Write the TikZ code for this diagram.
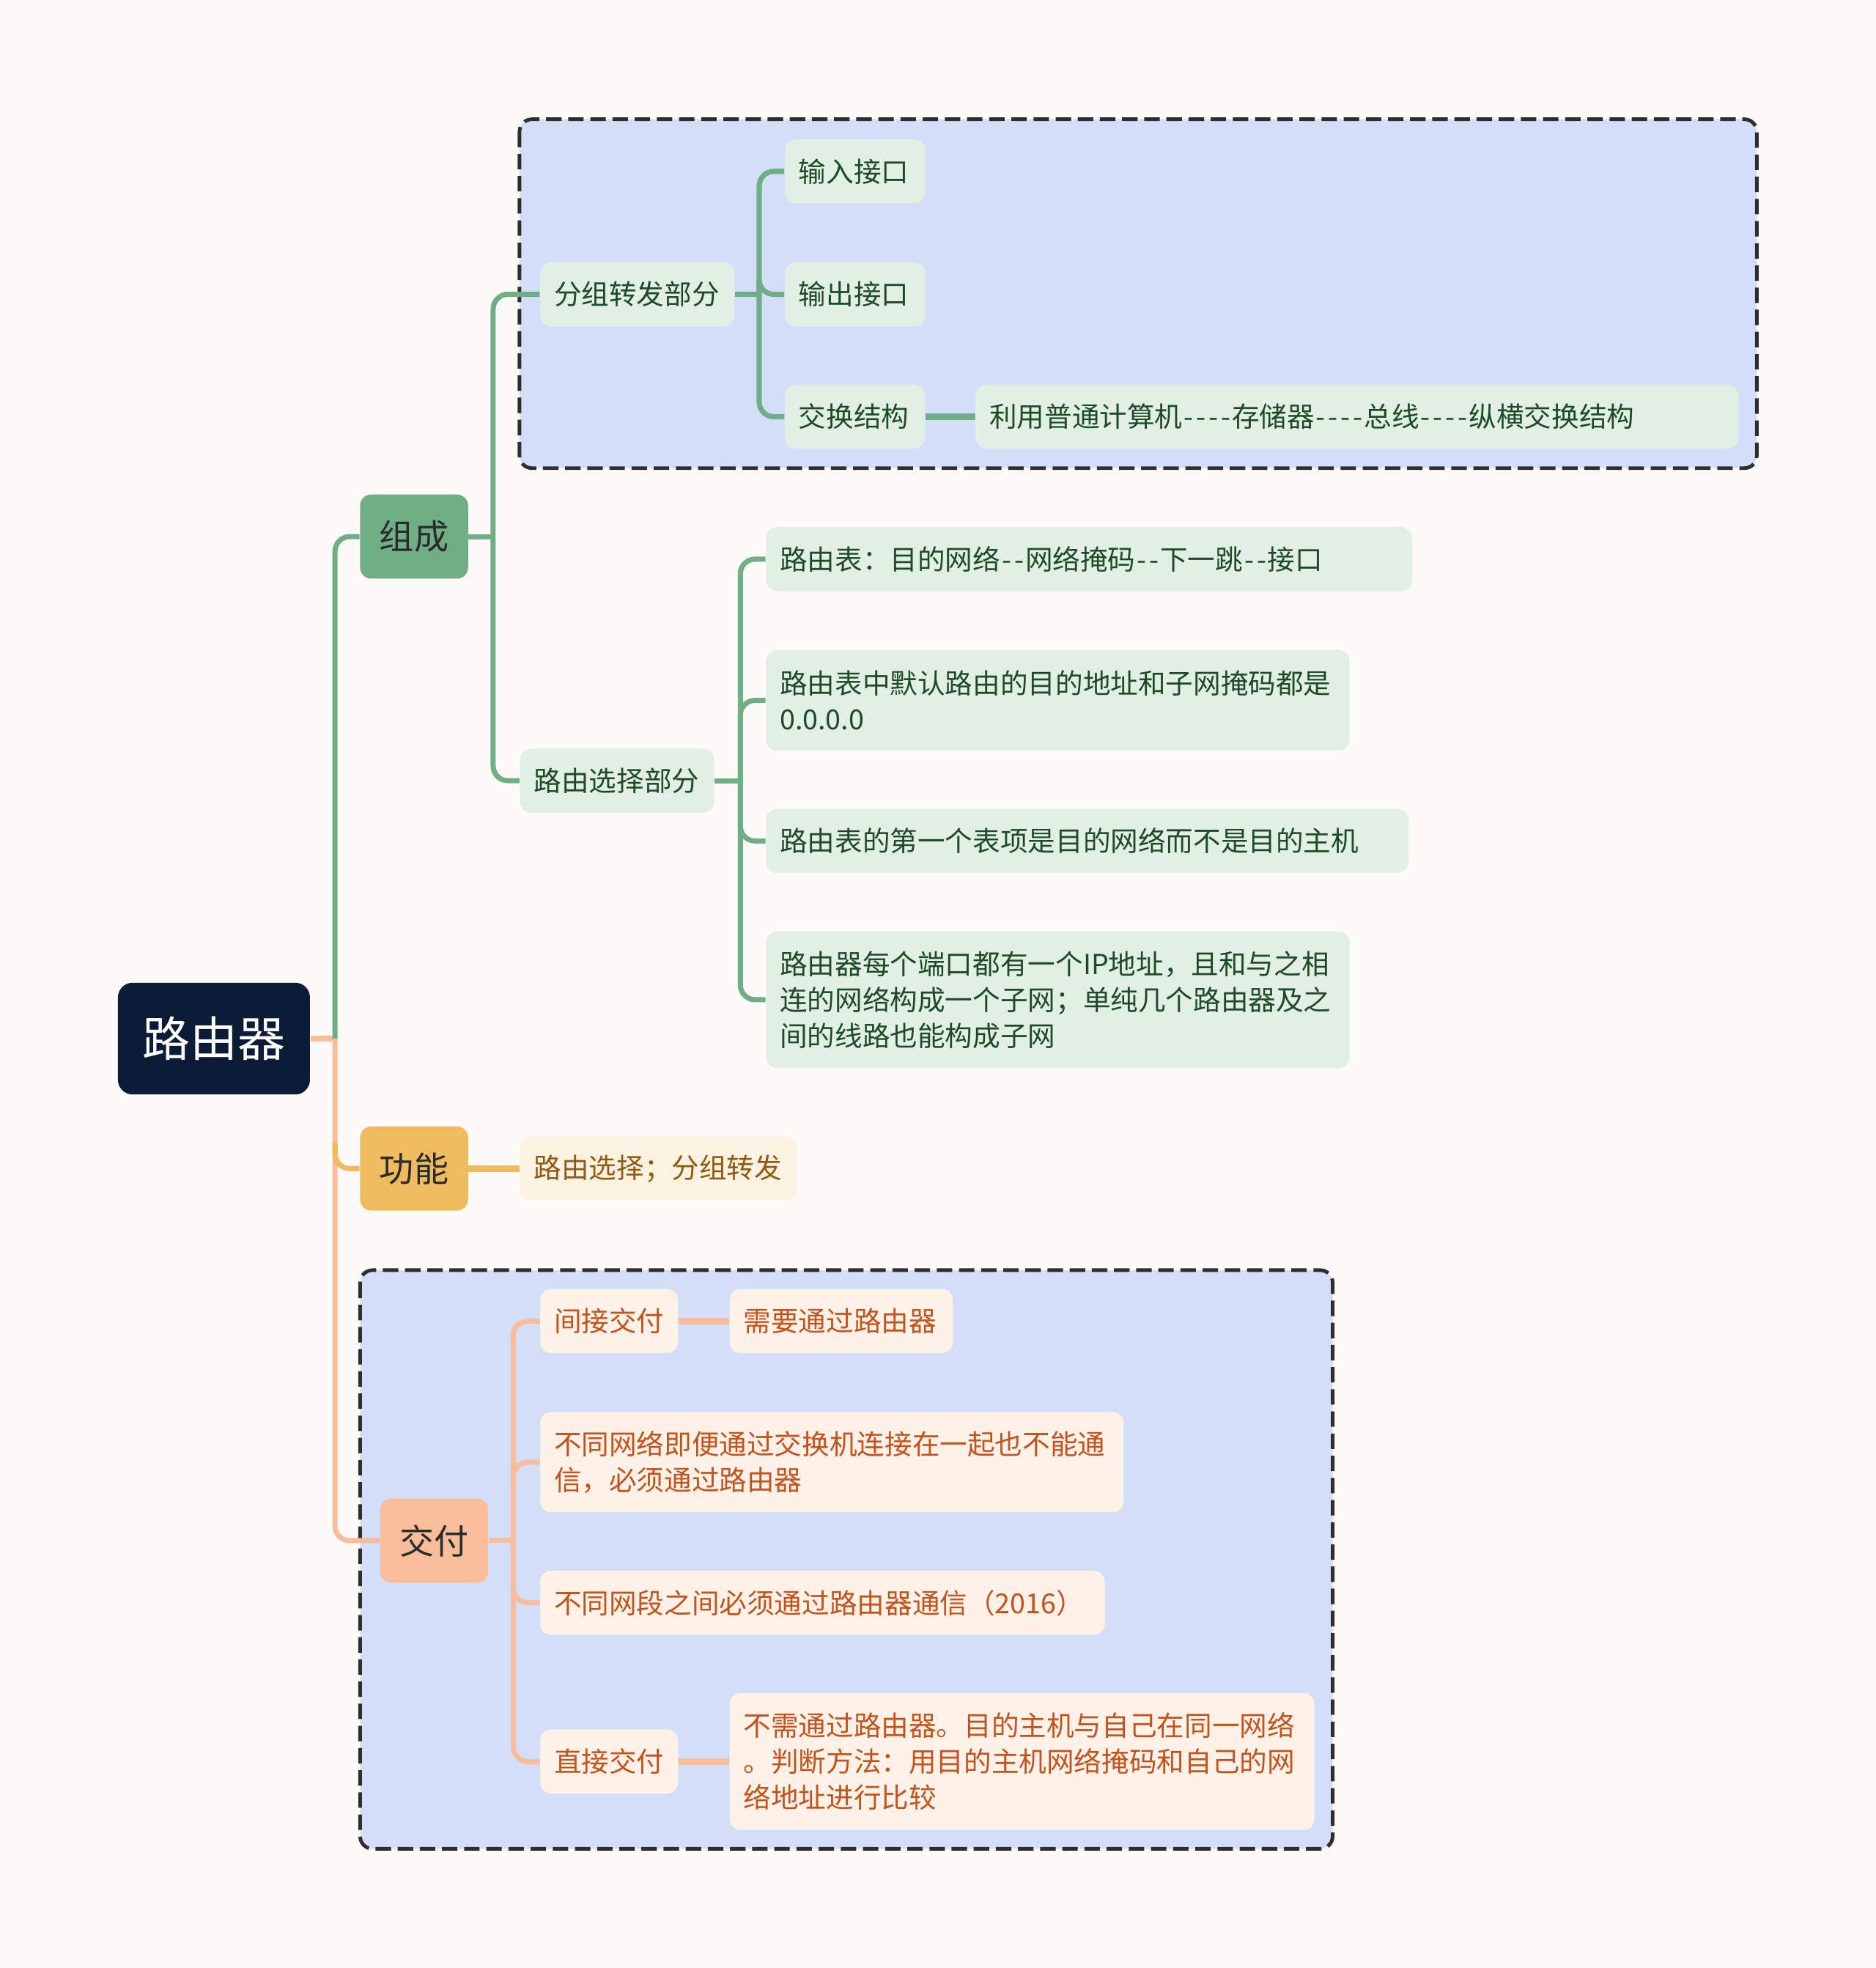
\documentclass[tikz,border=0pt]{standalone}
\usepackage{fontspec}
\setmainfont{Noto Sans CJK SC}
\pgfdeclarelayer{bg}
\pgfdeclarelayer{edges}
\pgfsetlayers{bg,edges,main}
\newcommand\hy{\mbox{\kern0.55pt-\kern0.55pt}}
\definecolor{bgc}{HTML}{FDFAF8}
\definecolor{rootc}{HTML}{0C1C36}
\definecolor{grn}{HTML}{70AF86}
\definecolor{grnfill}{HTML}{E2EFE5}
\definecolor{grntext}{HTML}{1F4A28}
\definecolor{gold}{HTML}{EEBB5F}
\definecolor{goldfill}{HTML}{FCF2E2}
\definecolor{goldtext}{HTML}{8F5A12}
\definecolor{peach}{HTML}{F9BD9B}
\definecolor{peachfill}{HTML}{FDF1E8}
\definecolor{peachtext}{HTML}{C4521C}
\definecolor{grpfill}{HTML}{D3DFF9}
\definecolor{dashc}{HTML}{2E2E2E}
\definecolor{darktext}{HTML}{2B2B2B}
\tikzset{
  rootnode/.style={fill=rootc, text=white, rounded corners=5.7pt, minimum width=2.620cm, minimum height=1.524cm, inner sep=0pt, font=\fontsize{18.5pt}{22pt}\selectfont},
  topic/.style={fill=#1, text=darktext, rounded corners=4.3pt, minimum width=1.473cm, minimum height=1.147cm, inner sep=0pt, font=\fontsize{13.4pt}{16pt}\selectfont},
  leaf/.style={anchor=west, rounded corners=4.3pt, inner xsep=0.19cm, inner ysep=0pt, align=left, minimum height=0.873cm, font=\fontsize{10.7pt}{13.9pt}\selectfont},
  gleaf/.style={leaf, fill=grnfill, text=grntext},
  oleaf/.style={leaf, fill=goldfill, text=goldtext},
  pleaf/.style={leaf, fill=peachfill, text=peachtext},
  conn/.style={draw=#1, line width=2pt, rounded corners=0.2cm},
  connthick/.style={draw=#1, line width=2.6pt},
  grp/.style={fill=grpfill, draw=dashc, line width=1.4pt, dash pattern=on 6pt off 2.6pt, rounded corners=0.17cm}
}
\begin{document}
\begin{tikzpicture}[x=0.017124cm, y=-0.017124cm]
\useasboundingbox (0,0) rectangle (1495,1568);
\begin{pgfonlayer}{bg}
  \fill[bgc] (0,0) rectangle (1495,1568);
  \path[grp] (414,95) rectangle (1400,373);
  \path[grp] (287,1012) rectangle (1062,1473);
\end{pgfonlayer}

% root and topics
\node[rootnode] (root) at (170.5,827.5) {路由器};
\node[topic=grn] (zucheng) at (330,427.5) {组成};
\node[topic=gold] (gongneng) at (330,931) {功能};
\node[topic=peach] (jiaofu) at (346,1227.5) {交付};

% 组成 subtree
\node[gleaf, text width=2.27cm] (fz) at (430,234.5) {分组转发部分};
\node[gleaf, text width=2.27cm] (ly) at (414,622) {路由选择部分};
\node[gleaf, text width=1.537cm] (in) at (625,136.5) {输入接口};
\node[gleaf, text width=1.537cm] (out) at (625,234.5) {输出接口};
\node[gleaf, text width=1.537cm] (sw) at (625,332) {交换结构};
\node[gleaf, text width=10.03cm] (swd) at (777,332) {利用普通计算机{\hy}{\hy}{\hy}{\hy}存储器{\hy}{\hy}{\hy}{\hy}总线{\hy}{\hy}{\hy}{\hy}纵横交换结构};
\node[gleaf, text width=8.438cm] (r1) at (610,445.5) {路由表：目的网络{\hy}{\hy}网络掩码{\hy}{\hy}下一跳{\hy}{\hy}接口};
\node[gleaf, text width=7.582cm, minimum height=1.370cm] (r2) at (610,558) {路由表中默认路由的目的地址和子网掩码都是\\0.0.0.0};
\node[gleaf, text width=8.387cm] (r3) at (610,670) {路由表的第一个表项是目的网络而不是目的主机};
\node[gleaf, text width=7.582cm, minimum height=1.867cm] (r4) at (610,796.5) {路由器每个端口都有一个IP地址，且和与之相\\连的网络构成一个子网；单纯几个路由器及之\\间的线路也能构成子网};

% 功能 subtree
\node[oleaf, text width=3.403cm] (gn1) at (414,931) {路由选择；分组转发};

% 交付 subtree
\node[pleaf, text width=1.503cm] (j1) at (430,1052.5) {间接交付};
\node[pleaf, text width=2.667cm] (j1d) at (581,1052.5) {需要通过路由器};
\node[pleaf, text width=7.582cm, minimum height=1.370cm] (j2) at (430,1165) {不同网络即便通过交换机连接在一起也不能通\\信，必须通过路由器};
\node[pleaf, text width=7.325cm] (j3) at (430,1277) {不同网段之间必须通过路由器通信（2016）};
\node[pleaf, text width=1.503cm] (j4) at (430,1403.5) {直接交付};
\node[pleaf, text width=7.599cm, minimum height=1.867cm] (j4d) at (581,1403.5) {不需通过路由器。目的主机与自己在同一网络\\。判断方法：用目的主机网络掩码和自己的网\\络地址进行比较};

\begin{pgfonlayer}{edges}
  \coordinate (t0) at (267,827.5);
  \coordinate (t1) at (267,910);
  \draw[conn=peach] (root.east) -- (t0);
  \draw[conn=grn] (t0) |- (zucheng.west);
  \draw[conn=peach] (t0) |- (jiaofu.west);
  \draw[conn=gold] (t1) |- (gongneng.west);

  \coordinate (c1) at (393,427.5);
  \draw[conn=grn] (zucheng.east) -- (c1);
  \draw[conn=grn] (c1) |- (fz.west);
  \draw[conn=grn] (c1) |- (ly.west);

  \coordinate (c2) at (605,234.5);
  \draw[conn=grn] (fz.east) -- (c2);
  \draw[conn=grn] (c2) |- (in.west);
  \draw[conn=grn] (c2) |- (out.west);
  \draw[conn=grn] (c2) |- (sw.west);
  \draw[connthick=grn] (sw.east) -- (swd.west);

  \coordinate (c3) at (590,622);
  \draw[conn=grn] (ly.east) -- (c3);
  \draw[conn=grn] (c3) |- (r1.west);
  \draw[conn=grn] (c3) |- (r2.west);
  \draw[conn=grn] (c3) |- (r3.west);
  \draw[conn=grn] (c3) |- (r4.west);

  \draw[connthick=gold] (gongneng.east) -- (gn1.west);

  \coordinate (c4) at (409,1227.5);
  \draw[conn=peach] (jiaofu.east) -- (c4);
  \draw[conn=peach] (c4) |- (j1.west);
  \draw[conn=peach] (c4) |- (j2.west);
  \draw[conn=peach] (c4) |- (j3.west);
  \draw[conn=peach] (c4) |- (j4.west);
  \draw[connthick=peach] (j1.east) -- (j1d.west);
  \draw[connthick=peach] (j4.east) -- (j4d.west);
\end{pgfonlayer}
\end{tikzpicture}
\end{document}
